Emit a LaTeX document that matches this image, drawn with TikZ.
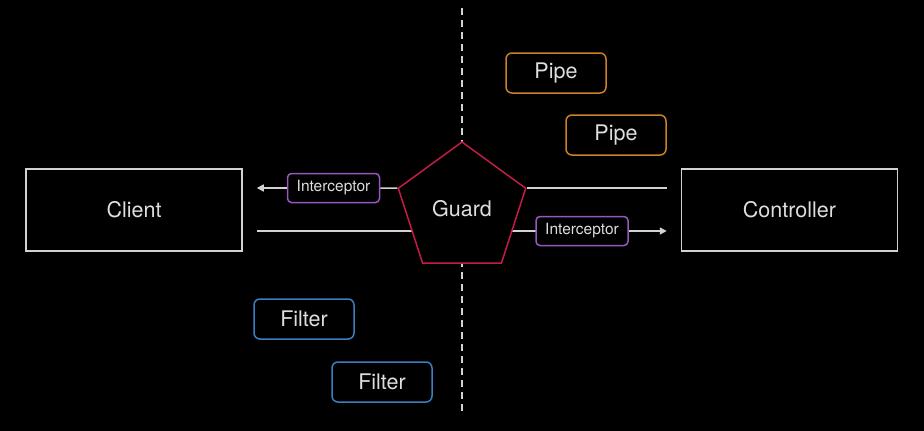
\documentclass[tikz,border=0pt]{standalone}
\usepackage{fontspec}
\setmainfont{TeX Gyre Heros}
\usepackage{tikz}
\usetikzlibrary{positioning, shapes.geometric, arrows.meta}

\definecolor{txt}{RGB}{222,222,222}
\definecolor{wire}{RGB}{210,210,210}
\definecolor{pipec}{RGB}{205,128,36}
\definecolor{filterc}{RGB}{58,126,196}
\definecolor{interc}{RGB}{150,88,190}
\definecolor{guardc}{RGB}{196,28,68}

\begin{document}
\begin{tikzpicture}[x=1pt, y=-1pt, line width=1.5pt, text=txt,
    font=\fontsize{21.5}{25}\selectfont,
    box/.style={draw=wire, fill=black, minimum width=216pt, minimum height=82pt, inner sep=0pt},
    part/.style={draw, fill=black, rounded corners=6pt, minimum width=100pt, minimum height=40pt, inner sep=0pt},
    icpt/.style={draw=interc, fill=black, rounded corners=4pt, minimum width=92pt, minimum height=29pt, inner sep=0pt,
      font=\fontsize{15.5}{18}\selectfont},
    flow/.style={draw=wire, line width=1.5pt}]
      \fill[black] (0,0) rectangle (924,431);
      \useasboundingbox (0,0) rectangle (924,431);

      \coordinate (top) at (462,   8);
      \coordinate (bot) at (462, 415);
      \draw[wire, line width=1.3pt, dash pattern=on 7pt off 5pt] (top) -- (bot);

      \node[box]  (C)  at (134, 210)    {Client};
      \node[box]  (CT) at (789.5, 210)  {Controller};

      \node[part, draw=pipec]   (P1) at (556,  73)  {Pipe};
      \node[part, draw=pipec]   (P2) at (616, 135)  {Pipe};
      \node[part, draw=filterc] (F1) at (304, 319)  {Filter};
      \node[part, draw=filterc] (F2) at (382, 382)  {Filter};

      \coordinate (I1c) at (333.5, 188);
      \coordinate (I2c) at (582, 231);

      % request
      \draw[flow, shorten <=14pt] (C.east |- I2c) -- (I2c);
      \draw[flow, -{Triangle[length=7pt, width=7pt]}, shorten >=14pt] (I2c) -- (CT.west |- I2c);

      \node[draw=guardc, fill=black, regular polygon, regular polygon sides=5, minimum size=134pt, inner sep=0pt]
        (G) at (462, 209) {Guard};

      \node[icpt] (I1) at (I1c) {Interceptor};
      \node[icpt] (I2) at (I2c) {Interceptor};

      % response
      \draw[flow, shorten <=14pt] (CT.west |- G.corner 5) -- (G.corner 5);
      \draw[flow] (G.corner 2) -- (I1);
      \draw[flow, -{Triangle[length=7pt, width=7pt]}, shorten >=14pt] (I1) -- (C.east |- I1);
\end{tikzpicture}
\end{document}
